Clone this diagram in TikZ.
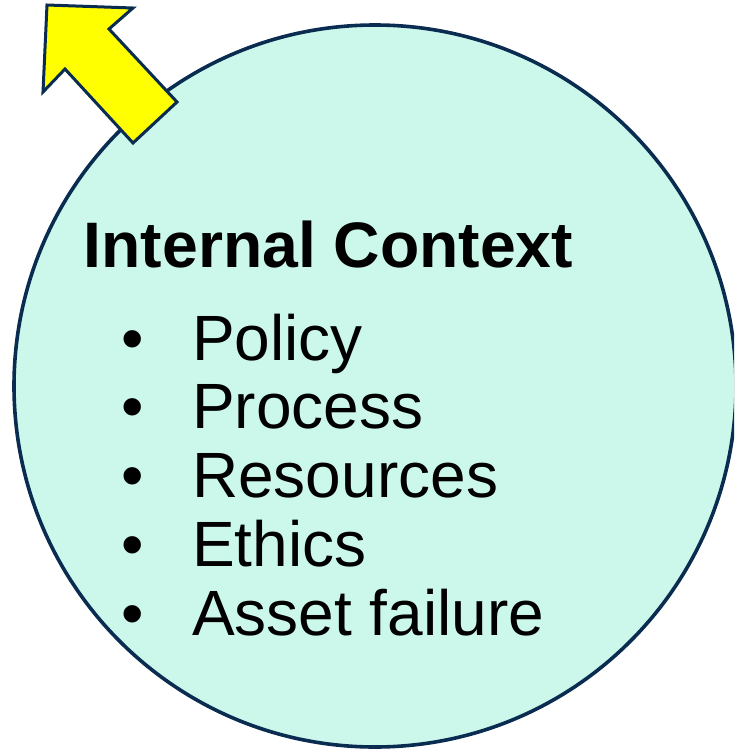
\documentclass[tikz,border=0pt]{standalone}
\usepackage{fontspec}
\setmainfont{Liberation Sans}
\definecolor{mint}{RGB}{204,248,236}
\definecolor{navy}{RGB}{10,44,80}
\definecolor{arrowyellow}{RGB}{255,255,0}
\begin{document}
\begin{tikzpicture}[x=1pt,y=-1pt,
  bubble/.style={circle,draw=navy,line width=3.6pt,fill=mint,minimum size=722pt,inner sep=0pt},
  pointer/.style={draw=navy,line width=3pt,fill=arrowyellow,line join=miter},
  heading/.style={anchor=base west,inner sep=0pt,font=\fontsize{64.3}{68}\selectfont\bfseries},
  item/.style={anchor=base west,inner sep=0pt,font=\fontsize{64}{68}\selectfont},
  dot/.style={anchor=base,inner sep=0pt,font=\fontsize{64}{68}\selectfont}]
  \useasboundingbox (0,0) rectangle (734,750);
  \clip (0,0) rectangle (734,750);

  % context bubble
  \node[bubble] (ctx) at (375,386) {};

  % block arrow leaving the bubble
  \draw[pointer] (47,5) -- (133,8) -- (109,29) -- (177,102) -- (133,143)
    -- (65,69) -- (43,92) -- cycle;

  % heading and list
  \node[heading] (title) at (83.5,267) {Internal Context};
  \foreach \txt [count=\i] in {Policy,Process,Resources,Ethics,Asset failure}{
    \node[dot] (b\i) at (133,{360+68.75*(\i-1)}) {•};
    \node[item] (t\i) at (192,{360+68.75*(\i-1)}) {\txt};
  }
\end{tikzpicture}
\end{document}
